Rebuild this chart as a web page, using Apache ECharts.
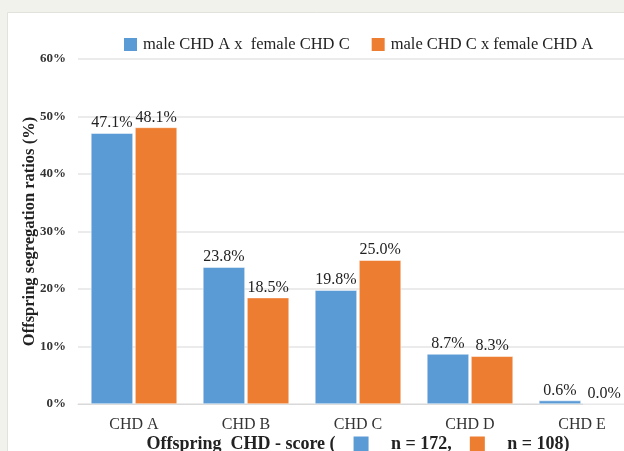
<!DOCTYPE html>
<html>
<head>
<meta charset="utf-8">
<script src="https://cdn.jsdelivr.net/npm/echarts@6/dist/echarts.min.js"></script>
<style>
  html, body { margin: 0; padding: 0; background: #f2f2ed; }
  #chart { width: 624px; height: 451px; }
</style>
</head>
<body>
<div id="chart"></div>
<script>
// 数据
const categories = ['CHD A', 'CHD B', 'CHD C', 'CHD D', 'CHD E']
const seriesNames = ['male CHD A x  female CHD C', 'male CHD C x female CHD A']
const maleAFemaleC = [47.1, 23.8, 19.8, 8.7, 0.6]
const maleCFemaleA = [48.1, 18.5, 25.0, 8.3, 0.0]
const yTicks = [0, 10, 20, 30, 40, 50, 60]

const serif = '"Liberation Serif", "DejaVu Serif", serif'
const colors = ['#5b9bd5', '#ed7d31']

const chart = echarts.init(document.getElementById('chart'))

const labelStyle = {
  show: true,
  position: 'top',
  distance: 2,
  fontFamily: serif,
  fontSize: 16,
  color: '#222',
  formatter: p => p.value.toFixed(1) + '%'
}

const option = {
  backgroundColor: '#f2f2ed',
  animation: false,
  graphic: [
    {
      type: 'rect',
      left: 7,
      top: 12,
      shape: { width: 640, height: 460 },
      style: { fill: '#ffffff', stroke: '#e2e2dc', lineWidth: 1 },
      z: -10
    }
  ],
  color: colors,
  legend: {
    top: 31,
    left: 117,
    itemWidth: 15,
    itemHeight: 15,
    itemGap: 20,
    icon: 'rect',
    textStyle: { fontFamily: serif, fontSize: 16.5, color: '#222' },
    data: seriesNames
  },
  grid: {
    left: 78,
    top: 59,
    width: 560,
    height: 345,
    outerBoundsMode: 'none'
  },
  xAxis: {
    type: 'category',
    data: categories,
    axisTick: { show: false },
    axisLine: { lineStyle: { color: '#d9d9d9', width: 1 } },
    axisLabel: { fontFamily: serif, fontSize: 16, color: '#333', margin: 13 },
    name: 'Offspring  CHD - score (    {b|}     n = 172,    {o|}     n = 108)',
    nameLocation: 'middle',
    nameGap: 31,
    nameMoveOverlap: false,
    nameTextStyle: {
      fontFamily: serif,
      fontSize: 18,
      fontWeight: 'bold',
      color: '#222',
      rich: {
        b: { backgroundColor: colors[0], width: 15, height: 15 },
        o: { backgroundColor: colors[1], width: 15, height: 15 }
      }
    }
  },
  yAxis: {
    type: 'value',
    min: yTicks[0],
    max: yTicks[yTicks.length - 1],
    interval: 10,
    axisLabel: {
      fontFamily: serif,
      fontSize: 13,
      fontWeight: 'bold',
      color: '#333',
      margin: 12,
      formatter: '{value}%'
    },
    splitLine: { lineStyle: { color: '#e4e4e4', width: 1.5 } },
    axisLine: { show: false },
    axisTick: { show: false },
    name: 'Offspring segregation ratios (%)',
    nameLocation: 'middle',
    nameGap: 40,
    nameMoveOverlap: false,
    nameTextStyle: { fontFamily: serif, fontSize: 16.5, fontWeight: 'bold', color: '#222' }
  },
  series: [
    {
      name: seriesNames[0],
      type: 'bar',
      data: maleAFemaleC,
      barWidth: 42,
      barGap: '5%',
      itemStyle: { borderColor: '#fff', borderWidth: 0.5 },
      label: labelStyle
    },
    {
      name: seriesNames[1],
      type: 'bar',
      data: maleCFemaleA,
      barWidth: 42,
      barGap: '5%',
      itemStyle: { borderColor: '#fff', borderWidth: 0.5 },
      label: labelStyle
    }
  ]
}

chart.setOption(option)
</script>
</body>
</html>
